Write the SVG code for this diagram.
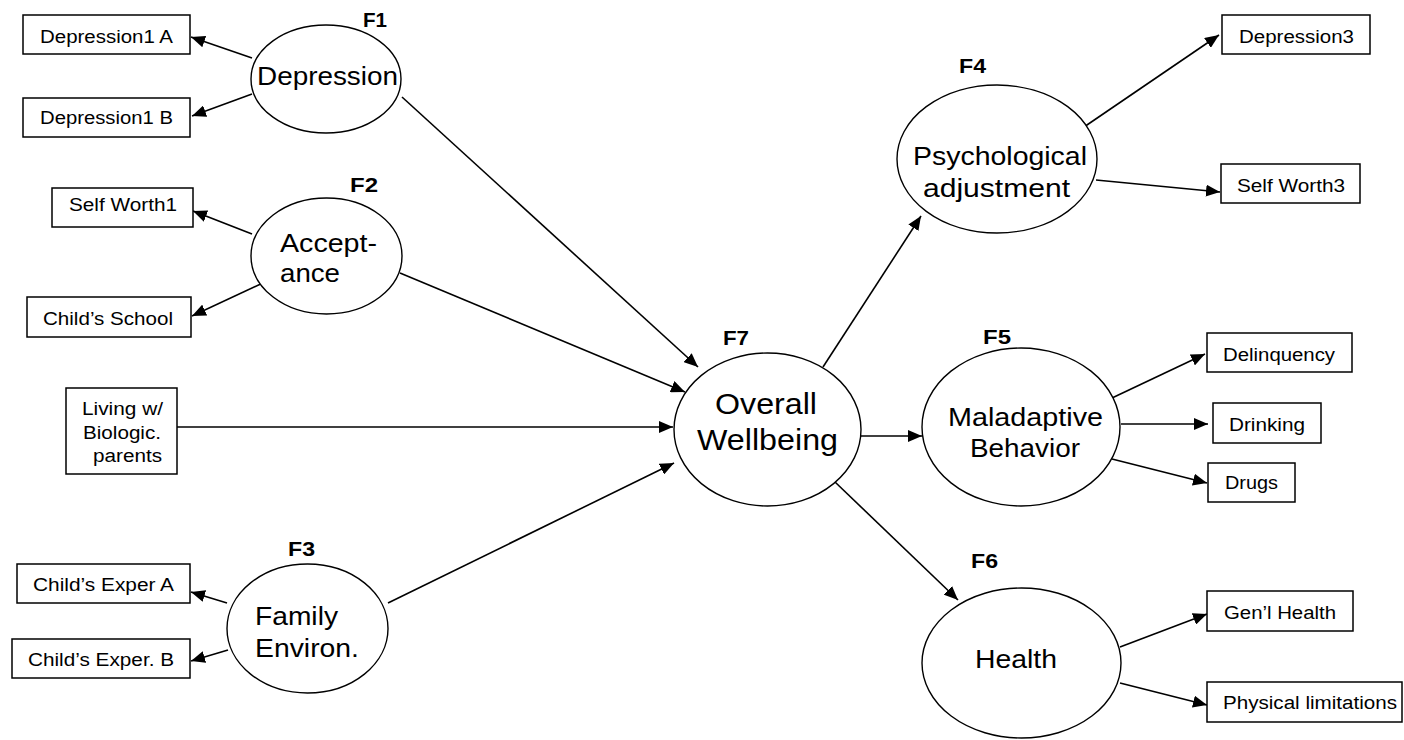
<svg xmlns="http://www.w3.org/2000/svg" width="1404" height="740" viewBox="0 0 1404 740">
<style>
  .bx { fill: #fff; stroke: #000; stroke-width: 1.5; }
  .el { fill: #fff; stroke: #000; stroke-width: 1.4; }
  .t { font-family: "Liberation Sans", Arial, sans-serif; font-size: 18px; fill: #000; }
  .big { font-family: "Liberation Sans", Arial, sans-serif; font-size: 26px; fill: #000; }
  .f { font-family: "Liberation Sans", Arial, sans-serif; font-size: 20px; font-weight: bold; fill: #000; }
  .cn line { stroke: #000; stroke-width: 1.6; marker-end: url(#ah); }
</style>
<defs>
  <marker id="ah" markerUnits="userSpaceOnUse" markerWidth="15" markerHeight="12" refX="14" refY="6" orient="auto">
    <path d="M0,0 L14,6 L0,12 z" fill="#000"/>
  </marker>
</defs>
<rect width="1404" height="740" fill="#fff"/>

<g class="cn" id="connectors">
  <line x1="252" y1="58" x2="191" y2="37"/>
  <line x1="252" y1="94" x2="192" y2="116"/>
  <line x1="402" y1="97" x2="698" y2="367"/>
  <line x1="252" y1="234" x2="193" y2="211"/>
  <line x1="265" y1="282" x2="192" y2="316"/>
  <line x1="400" y1="273" x2="685" y2="392"/>
  <line x1="177" y1="427" x2="673" y2="427"/>
  <line x1="388" y1="603" x2="674" y2="463"/>
  <line x1="227" y1="603" x2="191" y2="592"/>
  <line x1="228" y1="650" x2="191" y2="661"/>
  <line x1="823" y1="367" x2="921" y2="216"/>
  <line x1="1084" y1="127" x2="1219" y2="35"/>
  <line x1="1096" y1="180" x2="1220" y2="192"/>
  <line x1="861" y1="436" x2="922" y2="436"/>
  <line x1="835" y1="482" x2="958" y2="600"/>
  <line x1="1112" y1="398" x2="1205" y2="354"/>
  <line x1="1121" y1="424" x2="1208" y2="424"/>
  <line x1="1112" y1="459" x2="1207" y2="483"/>
  <line x1="1120" y1="647" x2="1207" y2="614"/>
  <line x1="1120" y1="683" x2="1207" y2="705"/>
</g>

<g id="dep1a"><rect class="bx" x="23" y="15" width="167" height="39"/><text class="t" x="40" y="43" textLength="133" lengthAdjust="spacingAndGlyphs">Depression1 A</text></g>
<g id="dep1b"><rect class="bx" x="23" y="98" width="167" height="39"/><text class="t" x="40" y="124" textLength="133" lengthAdjust="spacingAndGlyphs">Depression1 B</text></g>
<g id="f1"><ellipse class="el" cx="326" cy="79" rx="75" ry="54"/><text class="big" x="257" y="85" textLength="141" lengthAdjust="spacingAndGlyphs">Depression</text><text class="f" x="363" y="27" textLength="24" lengthAdjust="spacingAndGlyphs">F1</text></g>

<g id="sw1"><rect class="bx" x="52" y="188" width="141" height="39"/><text class="t" x="69" y="211" textLength="108" lengthAdjust="spacingAndGlyphs">Self Worth1</text></g>
<g id="school"><rect class="bx" x="27" y="297" width="164" height="40"/><text class="t" x="43" y="325" textLength="130" lengthAdjust="spacingAndGlyphs">Child’s School</text></g>
<g id="f2"><ellipse class="el" cx="326.5" cy="256" rx="75.5" ry="58"/><text class="big" x="280" y="252" textLength="97" lengthAdjust="spacingAndGlyphs">Accept-</text><text class="big" x="280" y="282" textLength="60" lengthAdjust="spacingAndGlyphs">ance</text><text class="f" x="350" y="192" textLength="28" lengthAdjust="spacingAndGlyphs">F2</text></g>

<g id="living"><rect class="bx" x="66" y="388" width="111" height="86"/>
  <text class="t" x="82" y="415" textLength="81" lengthAdjust="spacingAndGlyphs">Living w/</text>
  <text class="t" x="83" y="439" textLength="78" lengthAdjust="spacingAndGlyphs">Biologic.</text>
  <text class="t" x="93" y="462" textLength="69" lengthAdjust="spacingAndGlyphs">parents</text></g>

<g id="expA"><rect class="bx" x="17" y="564" width="173" height="39"/><text class="t" x="33" y="591" textLength="141" lengthAdjust="spacingAndGlyphs">Child’s Exper A</text></g>
<g id="expB"><rect class="bx" x="12" y="639" width="178" height="39"/><text class="t" x="28" y="666" textLength="146" lengthAdjust="spacingAndGlyphs">Child’s Exper. B</text></g>
<g id="f3"><ellipse class="el" cx="307.5" cy="628.5" rx="80.5" ry="64.5"/><text class="big" x="255" y="625" textLength="83" lengthAdjust="spacingAndGlyphs">Family</text><text class="big" x="255" y="657" textLength="104" lengthAdjust="spacingAndGlyphs">Environ.</text><text class="f" x="288" y="556" textLength="27" lengthAdjust="spacingAndGlyphs">F3</text></g>

<g id="f7"><ellipse class="el" cx="767.5" cy="429.5" rx="93.5" ry="76.5"/><text class="big" x="715" y="414" textLength="102" lengthAdjust="spacingAndGlyphs" style="font-size:29px">Overall</text><text class="big" x="697" y="450" textLength="141" lengthAdjust="spacingAndGlyphs" style="font-size:29px">Wellbeing</text><text class="f" x="723" y="345" textLength="26" lengthAdjust="spacingAndGlyphs">F7</text></g>

<g id="f4"><ellipse class="el" cx="997" cy="159" rx="100" ry="74"/><text class="big" x="913" y="165" textLength="174" lengthAdjust="spacingAndGlyphs">Psychological</text><text class="big" x="923" y="197" textLength="147" lengthAdjust="spacingAndGlyphs">adjustment</text><text class="f" x="959" y="73" textLength="27" lengthAdjust="spacingAndGlyphs">F4</text></g>
<g id="dep3"><rect class="bx" x="1222" y="15" width="148" height="39"/><text class="t" x="1239" y="43" textLength="115" lengthAdjust="spacingAndGlyphs">Depression3</text></g>
<g id="sw3"><rect class="bx" x="1221" y="164" width="139" height="39"/><text class="t" x="1237" y="192" textLength="108" lengthAdjust="spacingAndGlyphs">Self Worth3</text></g>

<g id="f5"><ellipse class="el" cx="1021" cy="427" rx="99" ry="79"/><text class="big" x="948" y="426" textLength="155" lengthAdjust="spacingAndGlyphs">Maladaptive</text><text class="big" x="970" y="457" textLength="110" lengthAdjust="spacingAndGlyphs">Behavior</text><text class="f" x="983" y="344" textLength="28" lengthAdjust="spacingAndGlyphs">F5</text></g>
<g id="delinq"><rect class="bx" x="1207" y="333" width="145" height="39"/><text class="t" x="1223" y="361" textLength="112" lengthAdjust="spacingAndGlyphs">Delinquency</text></g>
<g id="drink"><rect class="bx" x="1213" y="403" width="108" height="40"/><text class="t" x="1229" y="431" textLength="76" lengthAdjust="spacingAndGlyphs">Drinking</text></g>
<g id="drugs"><rect class="bx" x="1208" y="463" width="87" height="39"/><text class="t" x="1225" y="489" textLength="53" lengthAdjust="spacingAndGlyphs">Drugs</text></g>

<g id="f6"><ellipse class="el" cx="1021.5" cy="663" rx="99.5" ry="75"/><text class="big" x="975" y="668" textLength="82" lengthAdjust="spacingAndGlyphs">Health</text><text class="f" x="971" y="568" textLength="27" lengthAdjust="spacingAndGlyphs">F6</text></g>
<g id="genl"><rect class="bx" x="1207" y="591" width="146" height="40"/><text class="t" x="1224" y="619" textLength="112" lengthAdjust="spacingAndGlyphs">Gen’l Health</text></g>
<g id="phys"><rect class="bx" x="1207" y="682" width="195" height="40"/><text class="t" x="1223" y="709" textLength="174" lengthAdjust="spacingAndGlyphs">Physical limitations</text></g>
</svg>
